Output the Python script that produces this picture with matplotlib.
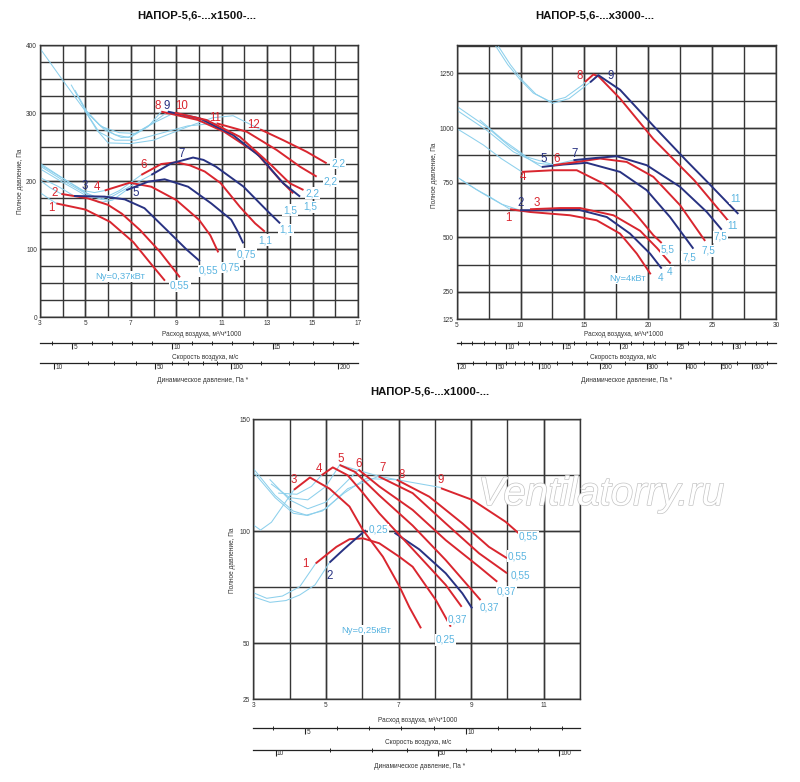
import matplotlib
matplotlib.use('Agg')
import matplotlib.pyplot as plt
from matplotlib import transforms
import matplotlib.patheffects as pe
import numpy as np

plt.rcParams['font.family'] = ['Liberation Sans', 'DejaVu Sans']

# ---------------- colours ----------------
RED = '#d9262f'
NAVY = '#283282'
LBLUE = '#8dd0ec'
LBL_BLUE = '#5ab4e0'
GRID = '#363636'

# ================= TOP-LEFT chart (x1500) =================
tl_f1 = [(3.72, 167), (5.0, 158), (6.08, 140), (7.11, 110), (7.84, 80), (8.50, 53.4)]
tl_f2 = [(3.94, 181), (5.11, 174.5), (5.99, 165), (6.6, 152), (7.40, 128), (8.28, 96), (9.16, 58.3)]
tl_f3 = [(4.5, 178), (5.85, 177), (6.73, 173), (7.6, 160), (8.58, 128), (9.46, 99), (10.04, 82)]
tl_f4 = [(5.85, 186), (6.95, 197.5), (7.9, 191.6), (9.0, 172), (10.0, 143), (10.5, 120), (10.85, 95)]
tl_f5 = [(6.8, 186.5), (7.76, 199), (8.49, 202.5), (9.52, 191.6), (10.54, 167), (11.42, 143), (11.7, 126), (11.95, 108.3)]
tl_f6 = [(7.46, 209), (8.34, 225), (9.0, 227.5), (9.6, 223), (10.25, 214), (10.95, 197), (11.8, 162), (12.47, 137.7), (12.9, 125.5)]
tl_f7 = [(7.9, 209), (8.78, 226), (9.74, 234.5), (10.2, 231), (10.75, 221), (11.95, 192), (12.98, 157), (13.57, 137.7)]
tl_f8 = [(8.34, 302), (9.96, 289.7), (11.13, 272), (12.54, 240.7), (13.57, 201.5), (14.15, 181.9)]
tl_f9 = [(8.63, 302), (10.04, 292), (11.5, 267.6), (12.69, 235.8), (13.71, 196.6), (14.45, 177)]
tl_f10 = [(8.93, 300.5), (10.33, 289.7), (11.8, 265), (13.1, 226), (14.0, 196.6), (14.6, 186.8)]
tl_f11 = [(10.78, 284.8), (12.1, 272.5), (13.42, 245.6), (14.45, 221), (15.18, 206.4)]
tl_f12 = [(12.69, 276), (13.71, 260), (14.74, 243), (15.62, 226)]
tl_fans = [tl_f1, tl_f2, tl_f3, tl_f4, tl_f5, tl_f6, tl_f7, tl_f8, tl_f9, tl_f10, tl_f11, tl_f12]
tl_fan_colors = [RED, RED, NAVY, RED, NAVY, RED, NAVY, RED, NAVY, RED, RED, RED]

tl_s1 = [(3.0, 395), (3.94, 351), (4.97, 304), (5.85, 275), (6.58, 264), (7.02, 265), (7.76, 280), (8.34, 302)]
tl_s2 = [(4.38, 341), (4.97, 306), (5.6, 283), (6.3, 268), (6.9, 264), (7.9, 284), (8.63, 302)]
tl_s3 = [(4.55, 333), (5.1, 300), (5.7, 280), (6.5, 271), (7.2, 270), (8.1, 287), (8.93, 300.5)]
tl_s4 = [(4.97, 304), (5.6, 272), (6.3, 260), (7.2, 260), (8.3, 270), (9.5, 281), (10.78, 285)]
tl_s5 = [(4.97, 304), (5.5, 275), (6.0, 256), (7.0, 255), (8.0, 260), (9.52, 280), (10.6, 293), (11.5, 296), (12.69, 276)]
tl_s6 = [(3.0, 183), (3.35, 175), (3.72, 167)]
tl_s7 = [(3.0, 201), (3.45, 190), (3.94, 181)]
tl_s8 = [(3.0, 205), (3.8, 192), (4.5, 178)]
tl_s9 = [(3.0, 224), (4.0, 204), (4.9, 186), (5.4, 183), (5.85, 186)]
tl_s10 = [(3.0, 218), (4.0, 198), (5.0, 179), (5.6, 168), (6.2, 172), (6.8, 186.5)]
tl_s11 = [(3.0, 226), (4.1, 202), (5.0, 183), (5.7, 173), (6.5, 186), (7.46, 209)]
tl_s12 = [(3.0, 222), (4.2, 197), (5.2, 178), (5.9, 172), (6.9, 191), (7.9, 209)]
tl_sys = [tl_s1, tl_s2, tl_s3, tl_s4, tl_s5, tl_s6, tl_s7, tl_s8, tl_s9, tl_s10, tl_s11, tl_s12]

tl_num_text = ['1', '2', '3', '4', '5', '6', '7', '8', '9', '10', '11', '12']
tl_num_pos = [(3.51, 159.8), (3.66, 181.9), (4.98, 192.6), (5.52, 190.7), (7.23, 182.8), (7.58, 223.5),
              (9.24, 239.7), (8.18, 310), (8.58, 310), (9.24, 310), (10.70, 292), (12.39, 282)]
tl_pow_text = ['0,55', '0,55', '0,75', '0,75', '1,1', '1,1', '1,5', '1,5', '2,2', '2,2', '2,2']
tl_pow_pos = [(9.16, 45.6), (10.41, 68), (11.36, 73), (12.1, 92.6), (12.9, 113), (13.83, 128),
              (14.0, 157), (14.89, 162), (15.0, 182), (15.8, 200), (16.13, 226)]
tl_ny = ('Nу=0,37кВт', (6.52, 59.3))

tl_x_labels = [3, 5, 7, 9, 11, 13, 15, 17]
tl_y_labels = [0, 100, 200, 300, 400]
tl_vel_major = [5, 10, 15]
tl_vel_minor = [4, 6, 7, 8, 9, 11, 12, 13, 14, 16, 17, 18, 19]
tl_dp_major = [10, 50, 100, 200]
tl_dp_minor = [20, 30, 40, 60, 70, 80, 90, 125, 150, 175]
tl_k = 1.133

# ================= TOP-RIGHT chart (x3000) =================
tr_f1 = [(9.18, 628.5), (10.74, 616), (13.87, 601), (15.96, 578), (17.79, 517), (19.1, 425.5), (20.19, 331)]
tr_f2 = [(9.96, 624), (12.05, 624), (14.4, 628.5), (16.75, 593), (18.57, 517), (20.14, 425.5), (21.05, 357)]
tr_f3 = [(10.74, 628.5), (13.09, 634), (14.66, 634), (17.27, 601), (19.36, 530), (20.7, 450), (21.75, 380)]
tr_f4 = [(10.09, 799.5), (12.57, 807), (14.4, 807), (16.49, 746), (17.79, 685), (19.1, 601), (20.4, 509.5), (21.05, 474)]
tr_f5 = [(11.66, 822), (13.35, 833), (15.18, 841), (17.79, 799.5), (19.88, 715.5), (21.7, 593), (23.53, 448)]
tr_f6 = [(12.57, 830), (14.4, 845), (16.22, 860.5), (18.31, 845), (20.4, 776.6), (22.49, 647), (24.45, 483.5)]
tr_f7 = [(14.14, 853), (15.96, 863.6), (17.53, 871), (19.88, 830), (22.49, 731), (24.58, 616), (25.75, 535)]
tr_f8 = [(15.05, 1211), (15.7, 1245), (16.1, 1237), (17.79, 1135), (20.4, 950), (23.6, 761), (26.27, 575)]
tr_f9 = [(15.44, 1209), (16.09, 1242), (17.79, 1175), (20.4, 1010), (23.0, 850), (24.6, 755), (27.05, 607)]
tr_fans = [tr_f1, tr_f2, tr_f3, tr_f4, tr_f5, tr_f6, tr_f7, tr_f8, tr_f9]
tr_fan_colors = [RED, NAVY, RED, RED, NAVY, RED, NAVY, RED, NAVY]

tr_s1 = [(8.0, 1380), (9.0, 1290), (9.96, 1222), (11.0, 1160), (12.3, 1122), (13.5, 1140), (14.91, 1200), (15.05, 1211)]
tr_s2 = [(8.2, 1380), (9.2, 1290), (10.2, 1215), (11.2, 1155), (12.5, 1113), (13.8, 1135), (15.44, 1209)]
tr_s3 = [(5.0, 1100), (7.35, 1005), (9.18, 914), (11.0, 845), (11.66, 822)]
tr_s4 = [(5.0, 1082), (7.35, 990), (9.44, 891), (11.3, 840), (12.57, 830)]
tr_s5 = [(5.0, 998), (6.2, 955), (7.1, 922), (8.5, 860), (10.09, 800)]
tr_s6 = [(6.83, 1036), (8.65, 944.5), (10.48, 868), (12.57, 832), (14.14, 853)]
tr_s7 = [(5.0, 777), (6.5, 720), (7.6, 685), (9.18, 628.5)]
tr_s8 = [(5.3, 765), (7.0, 702), (8.5, 652), (9.96, 624)]
tr_sys = [tr_s1, tr_s2, tr_s3, tr_s4, tr_s5, tr_s6, tr_s7, tr_s8]

tr_num_text = ['1', '2', '3', '4', '5', '6', '7', '8', '9']
tr_num_pos = [(9.05, 590), (10.01, 657), (11.26, 657), (10.22, 776.6), (11.84, 860.5), (12.83, 860.5),
              (14.27, 883), (14.6, 1237.5), (17.06, 1237.5)]
tr_pow_text = ['4', '4', '5,5', '7,5', '7,5', '7,5', '11', '11']
tr_pow_pos = [(21.0, 314), (21.7, 341.6), (21.5, 445), (23.2, 409), (24.7, 438), (25.67, 502), (26.6, 551), (26.8, 677)]
tr_ny = ('Nу=4кВт', (18.35, 311))

tr_x_labels = [5, 10, 15, 20, 25, 30]
tr_y_labels = [125, 250, 500, 750, 1000, 1250]
tr_vel_major = [10, 15, 20, 25, 30]
tr_vel_minor = [6, 7, 8, 9, 11, 12, 13, 14, 16, 17, 18, 19, 21, 22, 23, 24, 26, 27, 28, 29, 31, 32, 33]
tr_dp_major = [20, 50, 100, 200, 300, 400, 500, 600]
tr_dp_minor = [30, 40, 60, 70, 80, 90, 125, 150, 175, 250, 350, 450, 550, 650]
tr_k = 1.125

# ================= BOTTOM chart (x1000) =================
b_f1 = [(4.72, 85.6), (5.29, 93), (5.65, 96.4), (6.02, 96.8), (6.47, 94.6), (7.02, 88.6), (7.39, 84.1), (8.03, 69.2), (8.44, 57.3)]
b_f2a = [(5.1, 86), (5.5, 92), (5.85, 97), (6.1, 100.5)]
b_f2b = [(6.89, 99.3), (7.57, 91.9), (8.3, 81.2), (8.76, 72.2), (9.03, 65.5)]
b_f3 = [(4.12, 118.5), (4.56, 124), (5.1, 119), (5.65, 111), (6.02, 100.5), (6.57, 88.6), (7.02, 75.5), (7.3, 66), (7.62, 56.6)]
b_f4 = [(4.88, 125), (5.19, 128.5), (5.6, 125), (6.0, 117.5), (6.47, 108), (7.39, 92), (8.3, 76), (8.74, 66.2)]
b_f5 = [(5.38, 129.6), (5.8, 126.5), (6.47, 116), (7.39, 102.5), (8.3, 87.1), (9.26, 69.2)]
b_f6 = [(5.9, 127.5), (6.47, 120), (7.39, 109.5), (8.3, 96), (9.22, 84.1), (9.72, 77.4)]
b_f7 = [(6.45, 124.5), (7.39, 117), (8.3, 103.5), (9.22, 90.1), (9.99, 81.2)]
b_f8 = [(6.95, 123), (7.85, 115.4), (8.76, 103.5), (9.49, 93), (9.99, 87.9)]
b_f9 = [(8.17, 119.2), (9.03, 114), (9.95, 104.2), (10.31, 99.1)]
b_fans = [b_f1, b_f2a, b_f2b, b_f3, b_f4, b_f5, b_f6, b_f7, b_f8, b_f9]
b_fan_colors = [RED, NAVY, NAVY, RED, RED, RED, RED, RED, RED, RED]

b_s1 = [(3.0, 128), (3.6, 116), (4.1, 109), (4.46, 107.2), (4.9, 109), (5.5, 117), (6.1, 123.5), (6.95, 123)]
b_s2 = [(3.0, 126.5), (3.6, 115), (4.1, 108), (4.5, 107), (5.0, 110), (5.6, 119), (6.45, 124.5)]
b_s3 = [(3.46, 123), (4.0, 114), (4.5, 110), (5.0, 113), (5.5, 121), (5.9, 127.5)]
b_s4 = [(3.5, 121), (4.0, 115), (4.5, 114), (5.0, 120), (5.38, 129.6)]
b_s5 = [(3.7, 117), (4.2, 116.5), (4.6, 120), (4.88, 125)]
b_s6 = [(3.0, 102.8), (3.2, 100.5), (3.5, 104), (3.8, 111), (4.12, 118.5)]
b_s7 = [(5.38, 129.6), (6.47, 124.5), (7.3, 122), (8.17, 119.5)]
b_s8 = [(3.0, 72.5), (3.37, 70), (3.8, 71), (4.28, 75.2), (4.72, 85.6)]
b_s9 = [(3.0, 70.7), (3.46, 68.2), (3.9, 69), (4.28, 71.5), (4.7, 76), (5.1, 86)]
b_sys = [b_s1, b_s2, b_s3, b_s4, b_s5, b_s6, b_s7, b_s8, b_s9]

b_num_text = ['1', '2', '3', '4', '5', '6', '7', '8', '9']
b_num_pos = [(4.44, 85.3), (5.1, 80), (4.12, 122.9), (4.81, 127.8), (5.42, 132.1), (5.91, 130),
             (6.55, 128.1), (7.1, 125.1), (8.16, 122.9)]
b_num_colors = [RED, NAVY, RED, RED, RED, RED, RED, RED, RED]
b_pow_text = ['0,25', '0,25', '0,37', '0,37', '0,37', '0,55', '0,55', '0,55']
b_pow_pos = [(6.45, 100.8), (8.3, 51.4), (8.62, 60.6), (9.51, 66), (9.97, 73), (10.36, 80.4), (10.29, 88.9), (10.59, 97.5)]
b_ny = ('Nу=0,25кВт', (6.11, 55.8))

b_x_labels = [3, 5, 7, 9, 11]
b_y_labels = [25, 50, 100, 150]
b_vel_major = [5, 10]
b_vel_minor = [4, 6, 7, 8, 9, 11, 12, 13]
b_dp_major = [10, 50, 100]
b_dp_minor = [20, 30, 40, 60, 70, 80, 90]
b_k = 1.13

RHO_HALF = 0.6  # dynamic pressure = 0.6 * v^2

# ---------------- figure ----------------
W, H = 800, 782
fig = plt.figure(figsize=(W / 100, H / 100), dpi=100)


def rect_px(l, t, r, b):
    return [l / W, 1 - b / H, (r - l) / W, (b - t) / H]


def main_axes(rect, xlim, ylim, xlab, ylab, xstep, ystep):
    ax = fig.add_axes(rect)
    ax.set_xlim(*xlim)
    ax.set_ylim(*ylim)
    ax.set_xticks(xlab)
    ax.set_yticks(ylab)
    ax.set_xticks(np.arange(xlim[0], xlim[1] + 1e-6, xstep), minor=True)
    ax.set_yticks(np.arange(ylim[0], ylim[1] + 1e-6, ystep), minor=True)
    ax.xaxis.remove_overlapping_locs = False
    ax.yaxis.remove_overlapping_locs = False
    ax.grid(which='both', color=GRID, lw=1.0)
    ax.tick_params(which='both', length=0, labelsize=4.7, colors='#333333', pad=2.2)
    for s in ax.spines.values():
        s.set_color(GRID)
        s.set_linewidth(1.0)
    ax.set_axisbelow(True)
    return ax


def draw_curves(ax, sys_lines, fans, colors):
    for pts in sys_lines:
        q, p = zip(*pts)
        ax.plot(q, p, color=LBLUE, lw=0.75, zorder=2)
    for pts, c in zip(fans, colors):
        q, p = zip(*pts)
        ax.plot(q, p, color=c, lw=1.4, zorder=3, solid_capstyle='butt')


def draw_labels(ax, num_text, num_pos, num_colors, pow_text, pow_pos, ny):
    for t, (q, p), c in zip(num_text, num_pos, num_colors):
        ax.text(q, p, t, color=c, fontsize=8.3, ha='center', va='center', zorder=5)
    for t, (q, p) in zip(pow_text, pow_pos):
        ax.text(q, p, t, color=LBL_BLUE, fontsize=7.2, ha='center', va='center', zorder=6,
                bbox=dict(fc='white', ec='none', pad=0.6))
    ax.text(ny[1][0], ny[1][1], ny[0], color=LBL_BLUE, fontsize=6.8, ha='center', va='center', zorder=6,
            bbox=dict(fc='white', ec='none', pad=0.6))


def scale_axis(y_px, l_px, r_px, xlim, k, maj, mn, dyn=False):
    a = fig.add_axes([l_px / W, 1 - y_px / H, (r_px - l_px) / W, 1e-4])
    a.set_xlim(*xlim)
    a.set_ylim(0, 1)
    for s in ['top', 'left', 'right']:
        a.spines[s].set_visible(False)
    a.spines['bottom'].set_color('#222222')
    a.spines['bottom'].set_linewidth(0.9)
    a.patch.set_visible(False)
    a.set_yticks([])
    if dyn:
        pos = [np.sqrt(v / RHO_HALF) / k for v in maj]
        mpos = [np.sqrt(v / RHO_HALF) / k for v in mn]
    else:
        pos = [v / k for v in maj]
        mpos = [v / k for v in mn]
    a.set_xticks(pos)
    a.set_xticklabels([])
    a.set_xticks(mpos, minor=True)
    a.tick_params(axis='x', which='major', direction='out', length=4.2, width=0.8, color='#222222')
    a.tick_params(axis='x', which='minor', direction='inout', length=2.6, width=0.7, color='#222222')
    tr = transforms.blended_transform_factory(a.transData, a.transAxes)
    tr = transforms.offset_copy(tr, fig=fig, x=1.0, y=-0.6, units='points')
    for v, lbl in zip(pos, maj):
        a.text(v, 0, str(lbl), transform=tr, ha='left', va='top', fontsize=4.7, color='#333333')
    return a


def ftext(x, y, s, **kw):
    fig.text(x / W, 1 - y / H, s, **kw)


SMALL = dict(fontsize=4.7, color='#333333', ha='center', va='center')
YLAB = 'Полное давление, Па'
XLAB = 'Расход воздуха, м³/ч*1000'
VLAB = 'Скорость воздуха, м/с'
DLAB = 'Динамическое давление, Па *'
TFONT = dict(fontsize=8.2, fontweight='bold', ha='center', va='center', color='#111111')

# ---- top-left ----
ax1 = main_axes(rect_px(40, 45, 358, 317), (3, 17), (0, 400), tl_x_labels, tl_y_labels, 1, 25)
draw_curves(ax1, tl_sys, tl_fans, tl_fan_colors)
draw_labels(ax1, tl_num_text, tl_num_pos, tl_fan_colors, tl_pow_text, tl_pow_pos, tl_ny)
scale_axis(343.5, 40, 358, (3, 17), tl_k, tl_vel_major, tl_vel_minor)
scale_axis(363.5, 40, 358, (3, 17), tl_k, tl_dp_major, tl_dp_minor, dyn=True)
ftext(197, 15, 'НАПОР-5,6-...x1500-...', **TFONT)
ftext(21, 181, YLAB, rotation=90, **SMALL)
ftext(202, 335, XLAB, **SMALL)
ftext(205, 357.5, VLAB, **SMALL)
ftext(203, 381, DLAB, **SMALL)

# ---- top-right ----
ax2 = main_axes(rect_px(456.7, 45, 776, 319.3), (5, 30), (125, 1380), tr_x_labels, tr_y_labels, 2.5, 125)
draw_curves(ax2, tr_sys, tr_fans, tr_fan_colors)
draw_labels(ax2, tr_num_text, tr_num_pos, tr_fan_colors, tr_pow_text, tr_pow_pos, tr_ny)
scale_axis(343.5, 456.7, 776, (5, 30), tr_k, tr_vel_major, tr_vel_minor)
scale_axis(363.5, 456.7, 776, (5, 30), tr_k, tr_dp_major, tr_dp_minor, dyn=True)
ftext(595, 15, 'НАПОР-5,6-...x3000-...', **TFONT)
ftext(435, 175, YLAB, rotation=90, **SMALL)
ftext(624, 335, XLAB, **SMALL)
ftext(623, 357.5, VLAB, **SMALL)
ftext(627, 381, DLAB, **SMALL)

# ---- bottom ----
ax3 = main_axes(rect_px(253.3, 419.3, 580, 699), (3, 12), (25, 150), b_x_labels, b_y_labels, 1, 25)
draw_curves(ax3, b_sys, b_fans, b_fan_colors)
draw_labels(ax3, b_num_text, b_num_pos, b_num_colors, b_pow_text, b_pow_pos, b_ny)
scale_axis(728, 253.3, 580, (3, 12), b_k, b_vel_major, b_vel_minor)
scale_axis(749.5, 253.3, 580, (3, 12), b_k, b_dp_major, b_dp_minor, dyn=True)
ftext(430, 392, 'НАПОР-5,6-...x1000-...', **TFONT)
ftext(233, 560, YLAB, rotation=90, **SMALL)
ftext(418, 720.5, XLAB, **SMALL)
ftext(418, 742.5, VLAB, **SMALL)
ftext(420, 766, DLAB, **SMALL)

# watermark
wm = fig.text(478 / W, 1 - 505 / H, 'Ventilatorry.ru', fontsize=29, style='italic', color='white',
              ha='left', va='baseline', zorder=10)
wm.set_path_effects([pe.Stroke(linewidth=1.0, foreground='#c4c4c4'), pe.Normal()])

fig.savefig('out.png', dpi=100)
